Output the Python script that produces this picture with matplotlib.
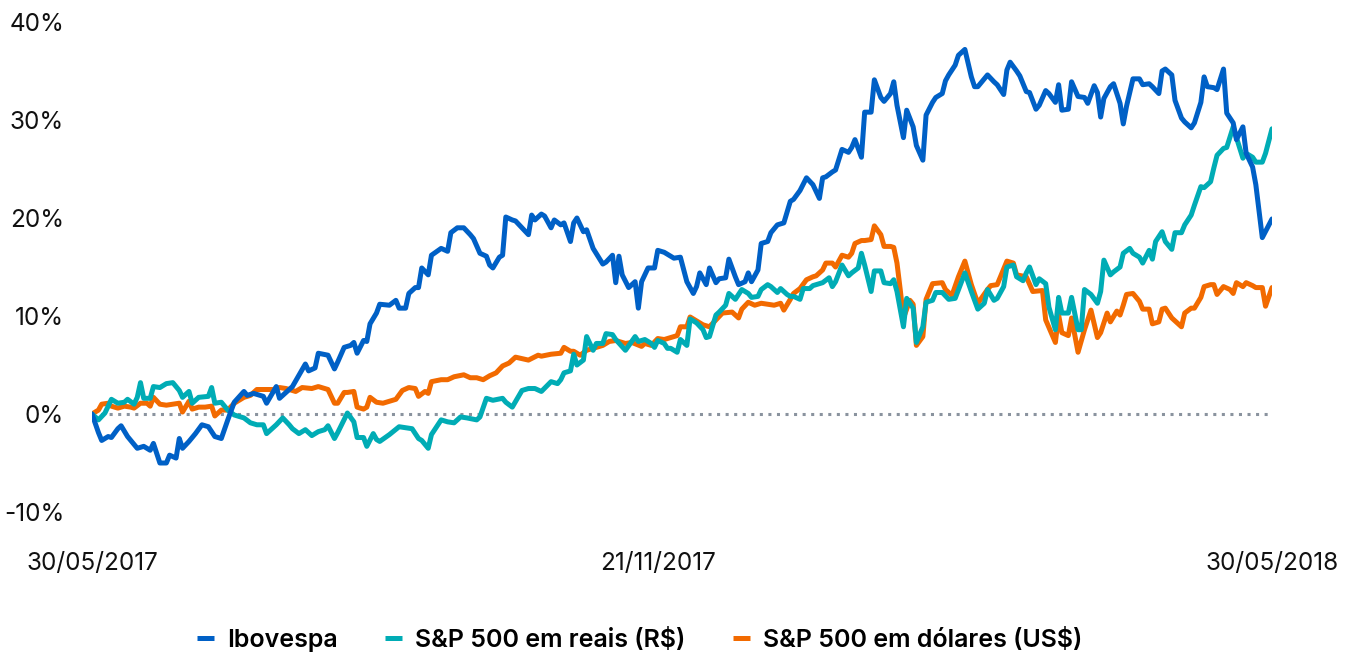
import matplotlib
matplotlib.use("Agg")
import matplotlib.pyplot as plt

# ---------------- data (days since 30/05/2017, % return) ----------------
ibov_days = [0, 2, 3, 5, 6, 8, 9, 11, 14, 16, 18, 19, 21, 23, 24, 26, 27, 28, 30, 32,
             34, 36, 38, 40, 42, 44, 47, 48, 50, 53, 54, 57, 58, 62, 66, 67, 69, 70, 73, 75,
             76, 78, 80, 81, 82, 84, 85, 86, 88, 89, 92, 94, 95, 97, 98, 100, 101, 102, 104, 105,
             108, 110, 111, 113, 115, 117, 118, 120, 122, 123, 124, 126, 127, 128, 130, 131, 133, 135, 136, 137,
             139, 140, 142, 143, 145, 146, 148, 149, 150, 152, 153, 155, 158, 159, 161, 162, 163, 164, 166, 168,
             169, 170, 172, 174, 175, 177, 180, 182, 184, 186, 187, 188, 190, 191, 193, 194, 196, 197, 199, 200,
             202, 203, 204, 206, 207, 209, 210, 212, 214, 216, 217, 219, 221, 223, 225, 226, 227, 229, 230, 232,
             234, 235, 236, 238, 239, 241, 242, 244, 245, 247, 248, 249, 251, 252, 254, 255, 257, 258, 260, 261,
             263, 264, 265, 267, 268, 270, 272, 273, 274, 277, 279, 280, 282, 283, 284, 286, 287, 289, 290, 292,
             293, 295, 296, 298, 299, 300, 302, 303, 305, 307, 308, 310, 311, 312, 313, 315, 316, 318, 319, 320,
             322, 324, 325, 327, 328, 330, 331, 332, 334, 335, 337, 338, 340, 341, 343, 344, 345, 347, 348, 350,
             351, 353, 354, 356, 357, 359, 360, 362, 365]
ibov_vals = [0.0, -1.9, -2.7, -2.3, -2.4, -1.5, -1.2, -2.3, -3.5, -3.3, -3.7, -3.0, -5.0, -5.0, -4.2, -4.5, -2.5, -3.5, -2.8, -2.0,
             -1.1, -1.3, -2.3, -2.5, -0.6, 1.2, 2.3, 1.9, 2.1, 1.8, 1.1, 2.8, 1.6, 2.8, 5.1, 4.4, 4.7, 6.2, 6.0, 4.6,
             5.3, 6.8, 7.0, 7.3, 6.2, 7.5, 7.4, 9.2, 10.3, 11.2, 11.1, 11.6, 10.8, 10.8, 12.3, 12.9, 12.9, 14.9, 14.2, 16.2,
             16.9, 16.6, 18.5, 19.0, 19.0, 18.3, 17.9, 16.4, 16.1, 15.2, 14.9, 16.0, 16.2, 20.1, 19.8, 19.7, 19.0, 18.3, 20.3, 19.8,
             20.4, 20.2, 19.0, 19.8, 19.3, 19.5, 17.6, 19.5, 20.0, 18.6, 18.8, 16.9, 15.3, 15.5, 16.2, 13.4, 16.1, 14.2, 12.9, 13.5,
             10.8, 13.5, 14.9, 14.9, 16.7, 16.5, 15.9, 16.0, 13.5, 12.3, 13.0, 14.4, 13.2, 14.9, 13.4, 13.8, 13.9, 15.8, 14.0, 13.2,
             13.5, 14.4, 13.5, 14.7, 17.4, 17.6, 18.5, 19.3, 19.5, 21.7, 21.9, 22.8, 24.1, 23.4, 22.0, 24.1, 24.2, 24.7, 24.9, 27.0,
             26.7, 27.2, 28.0, 26.2, 30.8, 30.8, 34.1, 32.3, 31.9, 32.7, 33.9, 31.5, 28.2, 31.0, 29.3, 27.4, 25.9, 30.5, 31.8, 32.3,
             32.7, 34.0, 34.6, 35.6, 36.6, 37.2, 34.4, 33.4, 33.4, 34.6, 33.9, 33.6, 32.6, 35.1, 35.9, 35.0, 34.5, 32.9, 32.8, 31.1,
             31.5, 33.0, 32.7, 31.8, 33.6, 31.0, 31.1, 33.9, 32.4, 32.3, 31.7, 33.5, 32.8, 30.3, 32.2, 33.4, 33.7, 31.7, 29.6, 31.4,
             34.2, 34.2, 33.6, 33.7, 33.4, 32.7, 35.0, 35.2, 34.6, 32.0, 30.2, 29.8, 29.2, 29.7, 31.8, 34.4, 33.4, 33.3, 33.1, 35.2,
             30.7, 29.7, 28.0, 29.3, 26.6, 25.2, 23.4, 18.0, 19.9]

spx_brl_days = [0, 2, 4, 6, 8, 10, 11, 13, 14, 15, 16, 18, 19, 21, 23, 25, 27, 28, 30, 31,
                33, 36, 37, 38, 40, 42, 44, 47, 49, 51, 53, 54, 57, 59, 61, 62, 64, 66, 68, 70,
                72, 73, 75, 76, 79, 81, 82, 84, 85, 87, 88, 89, 92, 95, 97, 99, 101, 102, 104, 105,
                108, 110, 112, 114, 116, 119, 120, 122, 124, 127, 128, 130, 133, 135, 137, 139, 142, 144, 145, 146,
                148, 149, 150, 152, 153, 155, 156, 158, 159, 161, 162, 165, 168, 169, 171, 173, 174, 175, 177, 178,
                179, 181, 182, 184, 185, 187, 189, 190, 191, 193, 194, 196, 197, 199, 200, 201, 203, 204, 206, 207,
                209, 210, 212, 213, 215, 216, 217, 219, 220, 222, 223, 225, 226, 228, 229, 230, 232, 234, 235, 237,
                238, 239, 241, 242, 244, 245, 247, 248, 249, 251, 252, 254, 255, 257, 258, 260, 261, 263, 265, 267,
                270, 272, 274, 276, 277, 279, 280, 282, 283, 285, 286, 288, 289, 290, 292, 293, 295, 296, 298, 299,
                300, 302, 303, 305, 306, 307, 309, 311, 312, 313, 315, 316, 318, 319, 321, 322, 324, 325, 327, 328,
                329, 331, 332, 334, 335, 337, 338, 340, 341, 343, 344, 346, 347, 348, 350, 351, 353, 354, 356, 357,
                359, 360, 362, 363, 365]
spx_brl_vals = [0.0, -0.6, 0.1, 1.5, 1.1, 1.2, 1.5, 1.0, 1.7, 3.2, 1.6, 1.6, 2.8, 2.7, 3.1, 3.2, 2.4, 1.7, 2.3, 1.1,
                1.7, 1.8, 2.7, 1.1, 1.2, 0.4, -0.1, -0.4, -0.9, -1.1, -1.1, -2.0, -1.1, -0.4, -1.1, -1.5, -2.0, -1.6, -2.2, -1.8,
                -1.6, -1.2, -2.5, -1.9, 0.1, -0.8, -2.4, -2.4, -3.3, -2.0, -2.6, -2.8, -2.1, -1.3, -1.4, -1.5, -2.5, -2.7, -3.5, -2.1,
                -0.6, -0.8, -0.9, -0.3, -0.4, -0.6, -0.3, 1.6, 1.4, 1.6, 1.2, 0.7, 2.4, 2.6, 2.6, 2.3, 3.3, 3.1, 3.5, 4.2,
                4.4, 6.1, 5.0, 5.5, 7.9, 6.5, 7.2, 7.2, 8.2, 8.1, 7.6, 6.5, 7.9, 7.4, 7.6, 7.2, 6.8, 7.5, 7.2, 6.7,
                6.7, 6.3, 7.6, 7.0, 9.7, 9.3, 8.6, 7.8, 7.9, 10.1, 10.4, 11.1, 12.3, 11.7, 12.2, 12.7, 12.3, 11.9, 12.0, 12.7,
                13.2, 13.0, 12.4, 12.8, 12.2, 12.0, 12.0, 11.7, 12.8, 12.8, 13.1, 13.3, 13.4, 13.9, 13.0, 13.5, 15.2, 14.1, 14.4, 14.9,
                16.4, 15.2, 12.5, 14.6, 14.6, 13.4, 13.3, 13.7, 12.5, 8.9, 11.8, 10.8, 7.3, 8.9, 11.4, 11.6, 12.4, 12.4, 11.7, 11.8,
                14.4, 12.5, 10.7, 11.3, 12.7, 11.6, 11.8, 13.0, 15.0, 15.2, 14.0, 13.6, 14.4, 15.0, 13.2, 13.8, 13.3, 10.9, 8.6, 11.9,
                10.3, 10.3, 11.9, 8.6, 8.6, 12.7, 12.2, 11.3, 12.5, 15.7, 14.2, 14.5, 15.0, 16.4, 16.9, 16.4, 16.0, 15.4, 16.7, 15.8,
                17.6, 18.6, 17.6, 16.8, 18.5, 18.5, 19.3, 20.3, 21.3, 23.2, 23.1, 23.7, 25.1, 26.4, 27.1, 27.2, 29.3, 28.2, 26.1, 26.6,
                26.2, 25.7, 25.7, 26.6, 29.1]

spx_usd_days = [0, 2, 3, 5, 6, 8, 10, 12, 13, 15, 17, 18, 19, 21, 23, 25, 27, 28, 30, 31,
                33, 35, 37, 38, 40, 42, 44, 47, 49, 51, 54, 56, 58, 60, 63, 65, 68, 70, 73, 75,
                76, 78, 79, 81, 82, 84, 85, 86, 88, 90, 92, 94, 96, 98, 100, 101, 103, 104, 105, 108,
                110, 112, 115, 117, 119, 121, 123, 125, 127, 129, 131, 135, 138, 139, 142, 145, 146, 148, 149, 151,
                153, 155, 158, 160, 162, 165, 167, 170, 171, 173, 175, 177, 181, 182, 184, 185, 187, 189, 191, 193,
                195, 198, 200, 201, 203, 205, 207, 209, 211, 213, 214, 216, 217, 219, 221, 223, 224, 226, 227, 229,
                230, 232, 234, 235, 236, 238, 239, 241, 242, 244, 245, 247, 248, 249, 250, 251, 253, 254, 255, 257,
                258, 260, 263, 264, 266, 268, 270, 272, 274, 277, 278, 280, 283, 285, 286, 289, 291, 294, 295, 298,
                299, 300, 302, 303, 305, 307, 309, 311, 312, 314, 315, 317, 318, 319, 320, 322, 324, 325, 327, 328,
                330, 331, 332, 334, 336, 337, 338, 340, 341, 343, 344, 346, 347, 348, 350, 352, 353, 354, 356, 357,
                359, 360, 362, 363, 365]
spx_usd_vals = [0.0, 0.4, 1.0, 1.1, 0.8, 0.6, 0.8, 0.7, 0.6, 1.1, 1.1, 0.8, 1.7, 1.0, 0.9, 1.0, 1.1, 0.2, 1.3, 0.5,
                0.7, 0.7, 0.8, -0.2, 0.4, 0.4, 1.1, 1.7, 1.9, 2.5, 2.5, 2.5, 2.7, 2.6, 2.3, 2.7, 2.6, 2.8, 2.5, 1.1,
                1.1, 2.2, 2.2, 2.3, 0.7, 0.5, 0.7, 1.7, 1.2, 1.1, 1.3, 1.5, 2.4, 2.7, 2.6, 1.8, 2.3, 2.1, 3.3, 3.5,
                3.5, 3.8, 4.0, 3.7, 3.7, 3.5, 3.9, 4.2, 4.9, 5.2, 5.8, 5.5, 6.0, 5.9, 6.1, 6.2, 6.8, 6.4, 6.4, 6.0,
                6.5, 6.7, 7.0, 7.4, 7.5, 7.2, 7.3, 6.9, 7.2, 7.0, 7.7, 7.6, 8.0, 8.9, 8.9, 9.9, 9.5, 9.1, 8.9, 9.6,
                10.3, 10.4, 9.8, 10.7, 11.4, 11.1, 11.3, 11.2, 11.1, 11.3, 10.6, 11.7, 12.3, 12.8, 13.7, 14.0, 14.1, 14.7, 15.4, 15.4,
                15.0, 16.2, 16.0, 16.4, 17.4, 17.7, 17.7, 17.8, 19.2, 18.3, 17.1, 17.1, 17.0, 15.4, 12.7, 9.8, 11.6, 11.2, 7.0, 7.9,
                11.7, 13.3, 13.4, 12.7, 12.1, 14.0, 15.6, 13.2, 11.3, 12.7, 13.1, 13.2, 15.6, 15.4, 14.2, 14.0, 12.5, 12.6, 9.6, 7.3,
                10.1, 8.3, 8.0, 9.8, 6.3, 8.6, 10.6, 7.8, 8.3, 10.3, 9.4, 10.5, 10.1, 11.1, 12.2, 12.3, 11.5, 10.7, 10.7, 9.2,
                9.4, 10.7, 10.8, 9.8, 9.2, 8.9, 10.3, 10.8, 10.8, 11.9, 13.0, 13.2, 13.2, 12.2, 13.0, 12.7, 12.3, 13.4, 13.0, 13.4,
                13.1, 12.9, 12.9, 11.0, 12.9]

series_names = ["Ibovespa", "S&P 500 em reais (R\\$)", "S&P 500 em dólares (US\\$)"]
series_colors = ["#0060C6", "#00ACB5", "#F26A00"]

x_tick_days = [0, 175, 365]
x_tick_labels = ["30/05/2017", "21/11/2017", "30/05/2018"]
y_ticks = [-10, 0, 10, 20, 30, 40]
y_tick_labels = ["-10%", "0%", "10%", "20%", "30%", "40%"]

# ---------------- figure ----------------
plt.rcParams['font.family'] = ['Inter', 'DejaVu Sans']

fig = plt.figure(figsize=(13.59, 6.57), dpi=100)
ax = fig.add_axes([92 / 1359, 1 - 512 / 657, (1272 - 92) / 1359, (512 - 22) / 657])

ax.axhline(0, color="#8A939E", lw=2.2, ls=(0, (1, 1.8)), zorder=1)

data = [(ibov_days, ibov_vals), (spx_brl_days, spx_brl_vals), (spx_usd_days, spx_usd_vals)]
handles = []
for (d, v), name, col, z in zip(data, series_names, series_colors, [5, 4, 3]):
    h, = ax.plot(d, v, color=col, lw=3.6, solid_joinstyle="round", solid_capstyle="round",
                 label=name, zorder=z)
    handles.append(h)

ax.set_xlim(0, 365)
ax.set_ylim(-10, 40)
ax.set_xticks(x_tick_days)
ax.set_xticklabels(x_tick_labels)
ax.set_yticks(y_ticks)
ax.set_yticklabels(y_tick_labels)
ax.tick_params(axis="both", length=0, labelsize=17.5, labelcolor="#111111")
ax.tick_params(axis="x", pad=29)
ax.tick_params(axis="y", pad=20)
for s in ax.spines.values():
    s.set_visible(False)

leg = fig.legend(handles=handles, loc="center", bbox_to_anchor=(640 / 1359, 1 - 640 / 657),
                 ncol=3, frameon=False, handlelength=0.65, handletextpad=0.55,
                 columnspacing=1.9, prop={"size": 18, "weight": "semibold"})
for lh in leg.get_lines():
    lh.set_linewidth(3.6)
    lh.set_solid_capstyle("butt")

fig.savefig("out.png", dpi=100)
